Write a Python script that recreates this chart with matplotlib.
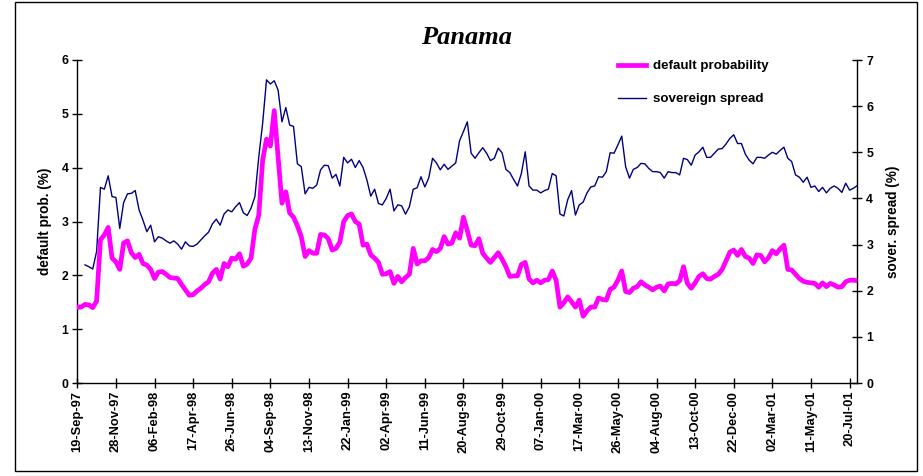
import numpy as np
import matplotlib
matplotlib.use("Agg")
import matplotlib.pyplot as plt
from matplotlib.lines import Line2D
from matplotlib.patches import Rectangle

nan = float("nan")

# weekly observations, week 0 = 19-Sep-97
default_prob = [
    1.41, 1.41, 1.46, 1.45, 1.40, 1.52, 2.66, 2.75, 2.89, 2.32,
    2.25, 2.11, 2.60, 2.64, 2.42, 2.33, 2.39, 2.22, 2.19, 2.11,
    1.94, 2.06, 2.07, 2.02, 1.96, 1.95, 1.94, 1.83, 1.73, 1.63,
    1.64, 1.71, 1.76, 1.83, 1.88, 2.04, 2.11, 1.93, 2.22, 2.16,
    2.32, 2.30, 2.40, 2.17, 2.21, 2.32, 2.86, 3.12, 4.14, 4.53,
    4.40, 5.06, 4.20, 3.34, 3.55, 3.16, 3.08, 2.92, 2.72, 2.35,
    2.46, 2.41, 2.41, 2.76, 2.75, 2.68, 2.47, 2.50, 2.62, 3.00,
    3.11, 3.14, 3.00, 2.95, 2.56, 2.58, 2.38, 2.32, 2.24, 2.02,
    2.03, 2.07, 1.85, 1.98, 1.88, 1.96, 2.02, 2.50, 2.21, 2.27,
    2.27, 2.33, 2.48, 2.44, 2.50, 2.72, 2.58, 2.60, 2.79, 2.69,
    3.08, 2.83, 2.56, 2.55, 2.68, 2.41, 2.32, 2.24, 2.33, 2.42,
    2.30, 2.16, 1.98, 1.99, 1.99, 2.20, 2.24, 1.93, 1.86, 1.91,
    1.86, 1.91, 1.92, 2.08, 1.91, 1.41, 1.49, 1.60, 1.51, 1.41,
    1.54, 1.24, 1.34, 1.41, 1.41, 1.58, 1.55, 1.54, 1.74, 1.78,
    1.91, 2.08, 1.70, 1.68, 1.76, 1.79, 1.88, 1.82, 1.78, 1.73,
    1.78, 1.80, 1.71, 1.84, 1.85, 1.84, 1.90, 2.16, 1.85, 1.76,
    1.86, 1.98, 2.03, 1.94, 1.93, 1.98, 2.02, 2.11, 2.27, 2.43,
    2.47, 2.37, 2.48, 2.35, 2.32, 2.22, 2.38, 2.37, 2.25, 2.33,
    2.46, 2.40, 2.49, 2.56, 2.11, 2.10, 2.02, 1.94, 1.89, 1.87,
    1.86, 1.85, 1.78, 1.86, 1.79, 1.85, 1.82, 1.78, 1.79, 1.88,
    1.91, 1.91, 1.90,
]

sovereign_spread = [
    nan, nan, 2.56, 2.52, 2.47, 2.85, 4.24, 4.20, 4.49, 4.04,
    4.02, 3.35, 3.91, 4.10, 4.11, 4.17, 3.75, 3.53, 3.28, 3.42,
    3.06, 3.17, 3.14, 3.08, 3.03, 3.08, 3.01, 2.90, 3.06, 2.97,
    2.96, 3.01, 3.10, 3.19, 3.27, 3.45, 3.55, 3.42, 3.66, 3.75,
    3.71, 3.82, 3.91, 3.69, 3.63, 3.79, 4.04, 4.90, 5.63, 6.57,
    6.48, 6.55, 6.35, 5.66, 5.97, 5.59, 5.56, 4.75, 4.69, 4.10,
    4.24, 4.22, 4.29, 4.62, 4.72, 4.71, 4.44, 4.52, 4.27, 4.89,
    4.77, 4.85, 4.67, 4.82, 4.67, 4.40, 4.05, 4.20, 3.89, 3.86,
    4.00, 4.20, 3.73, 3.86, 3.84, 3.66, 3.82, 4.20, 4.23, 4.47,
    4.25, 4.44, 4.87, 4.77, 4.62, 4.74, 4.63, 4.70, 4.77, 5.25,
    5.45, 5.66, 4.98, 4.87, 4.99, 5.10, 4.98, 4.82, 4.87, 5.09,
    4.99, 4.63, 4.56, 4.41, 4.27, 4.54, 5.01, 4.27, 4.18, 4.18,
    4.12, 4.17, 4.20, 4.54, 4.49, 3.66, 3.62, 3.97, 4.17, 3.64,
    3.86, 3.92, 4.12, 4.25, 4.27, 4.47, 4.46, 4.58, 4.99, 4.98,
    5.16, 5.35, 4.69, 4.44, 4.63, 4.67, 4.76, 4.75, 4.65, 4.58,
    4.58, 4.56, 4.44, 4.58, 4.56, 4.56, 4.51, 4.87, 4.84, 4.72,
    4.94, 5.01, 5.11, 4.89, 4.89, 4.98, 5.07, 5.08, 5.18, 5.30,
    5.38, 5.19, 5.19, 4.96, 4.83, 4.75, 4.89, 4.89, 4.87, 4.94,
    5.00, 4.96, 5.04, 5.11, 4.87, 4.80, 4.51, 4.46, 4.35, 4.46,
    4.24, 4.27, 4.15, 4.24, 4.12, 4.22, 4.27, 4.22, 4.13, 4.33,
    4.18, 4.22, 4.28,
]

tick_labels = [
    "19-Sep-97", "28-Nov-97", "06-Feb-98", "17-Apr-98", "26-Jun-98",
    "04-Sep-98", "13-Nov-98", "22-Jan-99", "02-Apr-99", "11-Jun-99",
    "20-Aug-99", "29-Oct-99", "07-Jan-00", "17-Mar-00", "26-May-00",
    "04-Aug-00", "13-Oct-00", "22-Dec-00", "02-Mar-01", "11-May-01",
    "20-Jul-01",
]
tick_step = 10  # weeks between labelled ticks

weeks = np.arange(len(default_prob))
pink = "#FF00FF"
navy = "#000080"
sans = ["Liberation Sans", "DejaVu Sans"]

fig = plt.figure(figsize=(9.23, 4.76), dpi=100)
fig.patch.set_facecolor("white")
fig.patches.append(Rectangle((15 / 923, 1 - 471 / 476), 902 / 923, 469 / 476,
                             transform=fig.transFigure, fill=False,
                             edgecolor="black", linewidth=1.0))

ax = fig.add_axes([77.3 / 923, 1 - 383 / 476, 780 / 923, 323 / 476])
ax2 = ax.twinx()

ax.plot(weeks, default_prob, color=pink, linewidth=3.4, solid_joinstyle="round",
        zorder=3)
ax2.plot(weeks, sovereign_spread, color=navy, linewidth=1.0, zorder=2)
ax.set_zorder(ax2.get_zorder() + 1)
ax.patch.set_visible(False)

ax.set_xlim(0, len(default_prob) - 1)
ax.set_ylim(0, 6)
ax2.set_ylim(0, 7)
ax.set_yticks(range(0, 7))
ax2.set_yticks(range(0, 8))
ax.set_xticks(np.arange(len(tick_labels)) * tick_step)
ax.set_xticklabels(tick_labels, rotation=90, fontfamily=sans,
                   fontweight="bold", fontsize=9.3)
for lab in ax.get_yticklabels() + ax2.get_yticklabels():
    lab.set_fontfamily(sans); lab.set_fontweight("bold"); lab.set_fontsize(8.8)

for a in (ax, ax2):
    a.spines["top"].set_visible(False)
    for s in a.spines.values():
        s.set_linewidth(1.0)
ax.spines["right"].set_visible(False)
ax2.spines["left"].set_visible(False)
ax2.spines["bottom"].set_visible(False)

ax.tick_params(axis="both", direction="inout", length=7, width=1.0, pad=3)
ax.tick_params(axis="x", pad=2)
ax2.tick_params(axis="y", direction="inout", length=7, width=1.0, pad=3)

ax.set_ylabel("default prob. (%)", fontfamily=sans, fontweight="bold",
              fontsize=9.8, labelpad=7)
ax2.set_ylabel("sover. spread (%)", fontfamily=sans, fontweight="bold",
               fontsize=9.8, labelpad=9)

fig.text(467 / 923, 1 - 38 / 476, "Panama", ha="center", va="center",
         fontfamily=["Liberation Serif", "DejaVu Serif"], fontweight="bold",
         fontstyle="italic", fontsize=19)

handles = [Line2D([], [], color=pink, linewidth=3.4),
           Line2D([], [], color=navy, linewidth=1.0)]
leg = fig.legend(handles, ["default probability", "sovereign spread"],
                 loc="upper left", bbox_to_anchor=(606 / 923, 1 - 48 / 476),
                 frameon=False, handlelength=2.1, handletextpad=0.55,
                 labelspacing=1.55, prop={"family": sans, "weight": "bold",
                                          "size": 9.6})

fig.savefig("out.png", dpi=100, facecolor="white")
